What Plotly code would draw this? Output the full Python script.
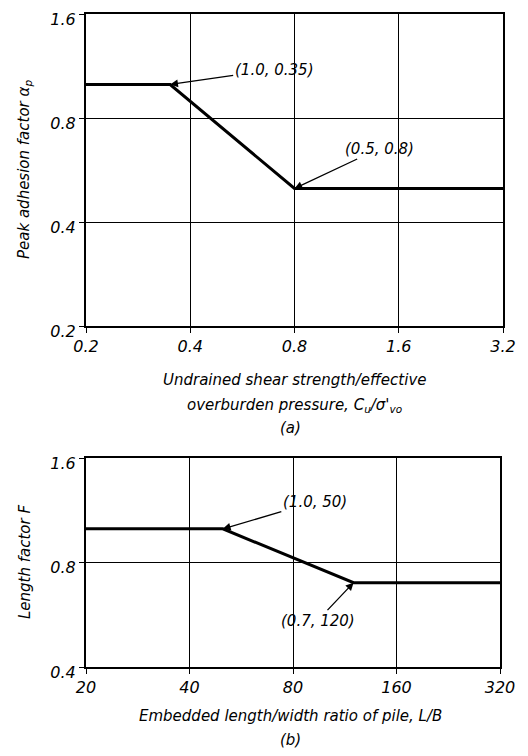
import numpy as np
import plotly.graph_objects as go
from plotly.subplots import make_subplots

# panel (a): peak adhesion factor vs Cu/sigma'vo
cu_ratio = [0.2, 0.35, 0.8, 3.2]
alpha_p = [1.0, 1.0, 0.5, 0.5]
xa_ticks = [0.2, 0.4, 0.8, 1.6, 3.2]
ya_ticks = [0.2, 0.4, 0.8, 1.6]

# panel (b): length factor vs L/B
lb_ratio = [20, 50, 120, 320]
length_f = [1.0, 1.0, 0.7, 0.7]
xb_ticks = [20, 40, 80, 160, 320]
yb_ticks = [0.4, 0.8, 1.6]

FONT = "DejaVu Sans"
ink = "black"

# page body has an 8px margin, so the figure is 16px smaller than the window
FW, FH = 512, 740
L, R, T, B = 78, 17, 6, 81
W, H = FW - L - R, FH - T - B
PAD = 8

def px_x(p):
    # screen pixel -> paper x
    return (p - PAD - L) / W

def px_y(p):
    # screen pixel -> paper y
    return (FH - B - (p - PAD)) / H

fig = make_subplots(rows=2, cols=1)
fig.add_trace(go.Scatter(x=cu_ratio, y=alpha_p, mode="lines",
                         line=dict(color=ink, width=3), showlegend=False), row=1, col=1)
fig.add_trace(go.Scatter(x=lb_ratio, y=length_f, mode="lines",
                         line=dict(color=ink, width=3), showlegend=False), row=2, col=1)

axis_style = dict(type="log", showline=True, linewidth=2, linecolor=ink, mirror=True,
                  showgrid=True, gridcolor=ink, gridwidth=1, ticks="outside",
                  ticklen=5, tickcolor=ink, zeroline=False, automargin=False,
                  tickfont=dict(family=FONT, size=16, color=ink, style="italic"))

fig.update_xaxes(axis_style)
fig.update_yaxes(axis_style)
fig.update_yaxes(ticklabelshift=5)

fig.update_xaxes(domain=[0, 1], range=[np.log10(0.2), np.log10(3.2)],
                 tickvals=xa_ticks, ticktext=[str(v) for v in xa_ticks], row=1, col=1)
fig.update_yaxes(domain=[px_y(326), 1], range=[np.log10(0.2), np.log10(1.6)],
                 tickvals=ya_ticks, ticktext=[str(v) for v in ya_ticks], row=1, col=1)
fig.update_xaxes(domain=[0, px_x(500)], range=[np.log10(20), np.log10(320)],
                 tickvals=xb_ticks, ticktext=[str(v) for v in xb_ticks], row=2, col=1)
fig.update_yaxes(domain=[0, px_y(458)], range=[np.log10(0.4), np.log10(1.6)],
                 tickvals=yb_ticks, ticktext=[str(v) for v in yb_ticks], row=2, col=1)

# axis titles placed as paper annotations (screen pixels)
title_font = dict(family=FONT, size=15, color=ink, style="italic")
titles = [
    (294, 380, "Undrained shear strength/effective", 0),
    (294, 405, "overburden pressure, C<sub>u</sub>/σ'<sub>vo</sub>", 0),
    (290, 428, "(a)", 0),
    (290, 716, "Embedded length/width ratio of pile, L/B", 0),
    (290, 740, "(b)", 0),
    (25, 170, "Peak adhesion factor α<sub>p</sub>", -90),
    (25, 562, "Length factor F", -90),
]
for xp, yp, txt, rot in titles:
    fig.add_annotation(x=px_x(xp), y=px_y(yp), xref="paper", yref="paper", text=txt,
                       showarrow=False, textangle=rot, font=title_font,
                       xanchor="center", yanchor="middle")

ann_font = dict(family=FONT, size=15, color=ink, style="italic")
notes = [
    ("x", "y", cu_ratio[1], alpha_p[1], "(1.0, 0.35)", 104, -15),
    ("x", "y", cu_ratio[2], alpha_p[2], "(0.5, 0.8)", 85, -40),
    ("x2", "y2", lb_ratio[1], length_f[1], "(1.0, 50)", 92, -27),
    ("x2", "y2", lb_ratio[2], length_f[2], "(0.7, 120)", -36, 38),
]
for xr, yr, xv, yv, txt, ax, ay in notes:
    fig.add_annotation(x=np.log10(xv), y=np.log10(yv), xref=xr, yref=yr, text=txt,
                       showarrow=True, arrowhead=2, arrowsize=1.2, arrowwidth=1.3,
                       arrowcolor=ink, ax=ax, ay=ay, font=ann_font)

fig.update_layout(width=FW, height=FH, plot_bgcolor="white", paper_bgcolor="white",
                  margin=dict(l=L, r=R, t=T, b=B))

fig.write_html("out.html")
